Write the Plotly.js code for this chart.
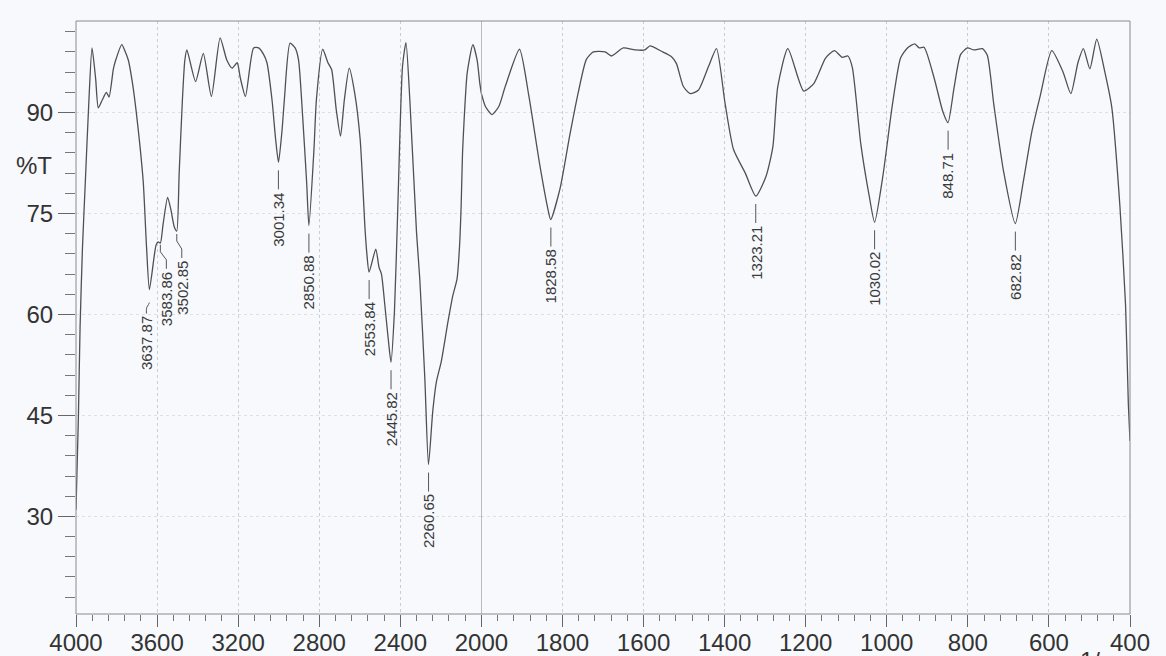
<!DOCTYPE html>
<html>
<head>
<meta charset="utf-8">
<script src="https://cdn.plot.ly/plotly-3.0.1.min.js"></script>
<style>
  html, body { margin: 0; padding: 0; background: #f7f9fc; }
  #chart { width: 1166px; height: 656px; }
</style>
</head>
<body>
<div id="chart"></div>
<script>
// ---- Data (wavenumber in 1/cm, transmittance in %T) ----
const wavenumber = [
  4000, 3988, 3980, 3968, 3955, 3936, 3921, 3903, 3890, 3870, 3850, 3837, 3816, 3807,
  3774, 3758, 3742, 3719, 3704, 3686, 3668, 3652, 3638, 3614, 3605, 3595, 3584, 3570,
  3548, 3532, 3515, 3503, 3491, 3475, 3463, 3453, 3410, 3372, 3332, 3289, 3256, 3230,
  3205, 3189, 3164, 3124, 3099, 3074, 3058, 3033, 3015, 3001, 2984, 2972, 2944, 2919,
  2902, 2882, 2862, 2851, 2826, 2814, 2783, 2757, 2739, 2716, 2695, 2676, 2652, 2625,
  2598, 2574, 2565, 2554, 2521, 2505, 2493, 2476, 2460, 2446, 2429, 2413, 2389, 2372,
  2353, 2320, 2304, 2279, 2261, 2240, 2222, 2198, 2165, 2141, 2120, 2108, 2100, 2093,
  2085, 2070, 2042, 2021, 2008, 2000,
  1990, 1974, 1957, 1941, 1906, 1883, 1857, 1836, 1829, 1806, 1782, 1761, 1741, 1724,
  1695, 1679, 1650, 1621, 1597, 1584, 1556, 1531, 1519, 1502, 1485, 1465, 1440, 1420,
  1399, 1378, 1349, 1323, 1298, 1281, 1269, 1244, 1205, 1180, 1168, 1151, 1129, 1110,
  1096, 1085, 1064, 1043, 1030, 1010, 986, 966, 949, 931, 920, 908, 883, 862, 849,
  834, 818, 801, 785, 764, 752, 736, 712, 683, 663, 642, 621, 593, 565, 546, 528, 515,
  499, 482, 462, 445, 425, 411, 404, 400
];
const transmittance = [
  31, 45, 58, 70, 79, 92, 99.6, 95, 90.7, 91.9, 93.0, 92.3, 96.4, 97.5,
  100.1, 99.1, 97.8, 93.9, 90.4, 85.5, 79.6, 70, 63.7, 68.7, 70.3, 70.8, 70.6, 73.5,
  77.4, 75.6, 73, 72.4, 81, 91.9, 97.8, 99.3, 94.6, 98.8, 92.4, 101.1, 97.8, 96.6,
  97.4, 95.1, 92.4, 99.6, 99.6, 98.6, 97.4, 91.9, 86, 82.6, 87.2, 91.9, 100.3, 99.6,
  97.8, 89.5, 79.6, 73.2, 84.5, 91.9, 99.4, 97.4, 96.4, 90.4, 86.5, 91.9, 96.6, 92.9,
  86, 72.7, 69, 66.3, 69.7, 67, 66, 61.3, 56.5, 52.9, 60.4, 75.2, 96.9, 100.4,
  91.9, 72.2, 65.3, 50.5, 37.7, 45.6, 50, 53, 58.9, 62.8, 65.3, 70, 76, 84,
  89, 95.9, 100.1, 97.8, 94.4, 92.8,
  90.9, 89.7, 90.9, 93.9, 99.4, 92.5, 82.6, 75.7, 74.1, 78.7, 86.6, 93, 97.9, 99,
  99, 98.4, 99.6, 99.3, 99.3, 99.9, 99.1, 98.3, 97.3, 93.9, 92.8, 93.3, 96.8, 99.5,
  91.4, 84.5, 81, 77.6, 80.5, 84.9, 93.8, 99.5, 93.2, 94.3, 95.8, 98.1, 99.2, 98.2,
  98.4, 96.7, 85.3, 77.5, 73.7, 80.4, 91.2, 98.1, 99.6, 100.2, 99.6, 99.7, 95.1, 90.2, 88.5,
  93.7, 98.6, 99.6, 99.3, 99.5, 98.5, 91.2, 81.3, 73.5, 79.8, 87.2, 92.6, 99.2, 96, 92.8, 97.5, 99.5,
  96.5, 100.9, 96, 90.8, 76.2, 61.4, 46.6, 41.2
];

// Labelled peaks
const peakWavenumber = [3637.87, 3583.86, 3502.85, 3001.34, 2850.88, 2553.84, 2445.82,
                        2260.65, 1828.58, 1323.21, 1030.02, 848.71, 682.82];
const peakTransmittance = [63.7, 70.8, 72.4, 82.6, 73.2, 66.3, 52.9,
                           37.7, 74.1, 77.6, 73.7, 88.5, 73.5];

// Axis ticks
const xTicksHigh = [4000, 3600, 3200, 2800, 2400];
const xTicksLow = [2000, 1800, 1600, 1400, 1200, 1000, 800, 600, 400];
const yTicks = [30, 45, 60, 75, 90];

// ---- Drawing ----
const BREAK = 2000;
const splitFrac = (4000 - BREAK) / 2 / ((4000 - BREAK) / 2 + (BREAK - 400));

const hiX = [], hiY = [], loX = [], loY = [];
wavenumber.forEach((w, i) => {
  if (w >= BREAK) { hiX.push(w); hiY.push(transmittance[i]); }
  if (w <= BREAK) { loX.push(w); loY.push(transmittance[i]); }
});

const lineStyle = { color: '#505050', width: 1.3, shape: 'spline', smoothing: 0.6 };
const traces = [
  { x: hiX, y: hiY, xaxis: 'x', yaxis: 'y', mode: 'lines', line: lineStyle, hoverinfo: 'x+y' },
  { x: loX, y: loY, xaxis: 'x2', yaxis: 'y', mode: 'lines', line: lineStyle, hoverinfo: 'x+y' }
];

function range(a, b, step) {
  const out = [];
  if (step > 0) { for (let v = a; v <= b + 1e-9; v += step) out.push(v); }
  return out;
}

const tickFont = { family: 'Liberation Sans, Arial, sans-serif', size: 24, color: '#333' };
const gridStyle = { showgrid: true, gridcolor: '#c9ced4', griddash: 'dot', gridwidth: 1 };

const xCommon = Object.assign({
  anchor: 'y', ticks: 'outside', ticklen: 12, tickwidth: 1, tickcolor: '#666',
  tickfont: tickFont, showline: false, zeroline: false, tickmode: 'array',
  ticklabelstandoff: -5
}, gridStyle);

const layout = {
  width: 1166, height: 656,
  margin: { l: 76, r: 36, t: 21, b: 42 },
  paper_bgcolor: '#f7f9fc', plot_bgcolor: '#f7f9fc',
  showlegend: false,
  xaxis: Object.assign({}, xCommon, {
    domain: [0, splitFrac], range: [4000, BREAK],
    tickvals: xTicksHigh, ticktext: xTicksHigh.map(String),
    minor: { tickmode: 'array', tickvals: range(BREAK + 80, 4000 - 80, 80).filter(v => v % 400 !== 0),
             ticks: 'outside', ticklen: 6, tickcolor: '#777', showgrid: false }
  }),
  xaxis2: Object.assign({}, xCommon, {
    domain: [splitFrac, 1], range: [BREAK, 400],
    tickvals: xTicksLow, ticktext: xTicksLow.map(String),
    minor: { tickmode: 'array', tickvals: range(440, BREAK - 40, 40).filter(v => v % 200 !== 0),
             ticks: 'outside', ticklen: 6, tickcolor: '#777', showgrid: false }
  }),
  yaxis: Object.assign({
    anchor: 'x', range: [15.5, 103.6], tickmode: 'array', tickvals: yTicks,
    ticks: 'outside', ticklen: 17, tickwidth: 1, tickcolor: '#666',
    tickfont: tickFont, showline: false, zeroline: false,
    minor: { tickmode: 'linear', tick0: 30, dtick: 3, ticks: 'outside', ticklen: 10,
             tickcolor: '#777', showgrid: false }
  }, gridStyle, { gridcolor: '#dde1e6' }),
  shapes: [],
  annotations: []
};

// frame and the solid scale-change line at 2000
layout.shapes.push({ type: 'rect', xref: 'paper', yref: 'paper', x0: 0, x1: 1, y0: 0, y1: 1,
  line: { color: '#8a8a8a', width: 1 }, layer: 'above' });
layout.shapes.push({ type: 'line', xref: 'x2', yref: 'paper', x0: BREAK, x1: BREAK, y0: 0, y1: 1,
  line: { color: '#8a8a8a', width: 1 } });

// peak labels with leader lines
const labelOffset = { '3637.87': -3, '3583.86': 6, '3502.85': 5 };
peakWavenumber.forEach((w, i) => {
  const xr = w >= BREAK ? 'x' : 'x2';
  const t = peakTransmittance[i];
  const dx = labelOffset[w.toFixed(2)] || 0;
  let path, textTop;
  if (w.toFixed(2) === '3637.87') {
    path = 'M0,-13 C-1,-16 -3,-17 -3,-20 L-3,-24';
    textTop = 25;
  } else if (dx !== 0) {
    path = `M0,-3 L0,-10 L${dx},-18 L${dx},-27`;
    textTop = 29;
  } else {
    path = 'M0,-8 L0,-27';
    textTop = 29;
  }
  layout.shapes.push({ type: 'path', xref: xr, yref: 'y', xsizemode: 'pixel', ysizemode: 'pixel',
    xanchor: w, yanchor: t, path: path, line: { color: '#555', width: 1 } });
  layout.annotations.push({ x: w, y: t, xref: xr, yref: 'y', text: w.toFixed(2),
    showarrow: false, textangle: -90, xanchor: 'center', yanchor: 'top',
    xshift: dx, yshift: -textTop, borderpad: 0,
    font: { family: 'Liberation Sans, Arial, sans-serif', size: 15, color: '#3a3a3a' } });
});

// axis captions
layout.annotations.push({ xref: 'paper', yref: 'paper', x: -0.0403, y: 0.757,
  xanchor: 'center', yanchor: 'middle', showarrow: false, text: '%T', font: tickFont });
layout.annotations.push({ xref: 'paper', yref: 'paper', x: 0.977, y: -0.0525,
  xanchor: 'center', yanchor: 'top', showarrow: false, text: '1/cm', font: tickFont });

Plotly.newPlot('chart', traces, layout, { displayModeBar: false, staticPlot: true });
</script>
</body>
</html>
